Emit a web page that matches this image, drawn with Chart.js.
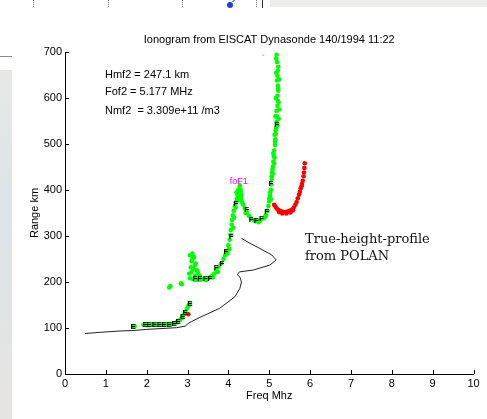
<!DOCTYPE html>
<html>
<head>
<meta charset="utf-8">
<script src="https://cdn.jsdelivr.net/npm/chart.js@4.4.1/dist/chart.umd.min.js"></script>
<style>
  html, body { margin: 0; padding: 0; background: #ffffff; }
  #wrap { position: relative; width: 487px; height: 419px; overflow: hidden; }
  #c { position: absolute; left: 0; top: 0; }
  .deco { position: absolute; }
</style>
</head>
<body>
<div id="wrap">
  <div class="deco" style="left:270px;top:0;width:217px;height:7px;background:#efedeb;"></div>
  <div class="deco" style="left:33px;top:0;width:1px;height:7px;border-left:1px dotted #777;"></div>
  <div class="deco" style="left:108px;top:0;width:1px;height:7px;border-left:1px dotted #777;"></div>
  <div class="deco" style="left:182px;top:0;width:1px;height:7px;border-left:1px dotted #777;"></div>
  <div class="deco" style="left:256px;top:0;width:1px;height:7px;border-left:1px dotted #777;"></div>
  <div class="deco" style="left:262px;top:0;width:1px;height:8px;background:#333;"></div>
  <div class="deco" style="left:227px;top:2px;width:6px;height:6px;border-radius:3px;background:#1a3fe0;"></div>
  <div class="deco" style="left:232px;top:0;width:4px;height:1px;background:#1a3fe0;transform:rotate(-45deg);"></div>
  <div class="deco" style="left:0;top:56px;width:12px;height:1px;background:#8a8a8a;"></div>
  <div class="deco" style="left:0;top:70px;width:12px;height:349px;background:linear-gradient(#e6e8e6,#dde5e8 40%,#e6e4e2);"></div>
  <canvas id="c" width="487" height="419"></canvas>
</div>
<script>
// ---- Data (frequency MHz, range km) ----
const titleText = "Ionogram from EISCAT Dynasonde 140/1994 11:22";
const xTickValues = [0,1,2,3,4,5,6,7,8,9,10];
const yTickValues = [0,100,200,300,400,500,600,700];

// O-mode echoes (green)
const greenFreq = [
  1.67,1.70,1.92,1.96,2.00,2.06,2.12,2.19,2.25,2.31,2.37,2.43,2.50,2.55,2.62,2.67,2.72,2.77,2.82,2.86,2.88,2.92,2.94,2.98,3.02,3.06,
  2.55,2.58,2.84,2.86,
  3.06,3.16,3.10,3.18,3.14,3.22,3.10,3.26,3.18,3.06,3.30,3.12,3.20,3.08,3.04,3.12,3.24,
  3.14,3.18,3.24,3.30,3.36,3.43,3.50,3.55,3.60,3.65,3.70,3.76,3.82,3.88,3.92,3.96,4.00,4.03,4.05,4.06,4.08,4.09,4.11,4.13,4.16,4.19,4.21,4.22,4.25,4.27,4.28,
  4.24,4.30,4.26,4.31,4.22,4.18,4.14,4.34,4.20,4.12,4.02,3.98,3.74,3.62,3.46,
  4.30,4.31,4.32,4.36,4.40,4.45,4.50,4.55,4.62,4.70,4.78,4.86,4.92,4.96,4.98,5.00,5.02,5.04,5.05,5.06,5.07,5.09,5.10,5.11,5.12,5.14,5.15,5.16,5.17,5.18,5.19,5.18,5.20,5.21,5.20,5.22,5.21,5.19,5.20,5.21,5.22,5.19,5.17,5.18,
  5.08,5.13,5.10,5.16,5.15,5.23,5.24,5.16,5.23,5.02,5.04,5.06,5.12,5.14,5.20,5.25,5.22,5.17,5.13,5.09,5.00,4.90,4.74,4.66,4.42
];
const greenRange = [
  103,104,107,108,106,106,107,107,107,107,107,107,108,108,109,110,112,114,118,122,125,130,134,142,148,153,
  188,191,197,195,
  258,254,245,237,230,226,222,219,213,208,213,250,240,232,218,262,224,
  206,205,205,205,206,206,208,210,213,218,226,233,240,250,258,268,280,292,302,313,325,335,345,355,365,373,382,390,396,403,410,
  400,398,388,385,378,362,340,372,395,318,272,262,222,210,204,
  400,390,378,368,360,352,344,338,334,333,334,338,345,355,365,375,388,400,412,424,438,451,462,474,486,498,510,522,535,548,560,572,583,594,605,616,627,638,648,659,668,678,686,694,
  445,470,480,530,560,590,640,600,555,395,380,430,458,505,540,575,620,655,520,436,382,342,330,332,350
];
// faint stray echo near the top
const strayFreq = [4.85];
const strayRange = [693];

// X-mode echoes (red)
const redFreq = [3.02,5.12,5.15,5.18,5.22,5.26,5.30,5.35,5.40,5.45,5.50,5.55,5.60,5.64,5.67,5.70,5.73,5.75,5.77,5.80,5.82,5.84,5.85,5.86,5.87,5.24,5.32,5.42,5.52,5.58,5.79];
const redRange = [130,368,364,360,357,355,353,352,352,353,355,357,362,368,374,382,390,396,404,413,420,430,438,448,458,352,349,349,351,356,408];

// True-height profile from POLAN (black line)
const profFreq = [0.49,0.86,1.35,1.67,2.00,2.40,2.73,2.94,3.02,3.10,3.30,3.79,4.16,4.28,4.32,4.28,4.22,4.27,4.61,5.02,5.17,5.06,4.77,4.53,4.32];
const profRange = [88,90.6,93.5,94.5,97,99,100.7,104,110,114,123,143,168,186,200,211,216,222,226,237,248,259,273,284,295];

// Echo-type letters
const eFreq = [1.67,1.96,2.06,2.19,2.31,2.43,2.55,2.67,2.77,2.88,2.94,3.06];
const eRange = [103,107,106,107,107,107,108,110,114,125,133,152];
const fFreq = [3.18,3.30,3.43,3.55,3.70,3.84,3.94,4.07,4.18,4.45,4.56,4.68,4.81,4.94,5.04,5.18];
const fRange = [206,206,206,208,230,240,265,299,369,357,335,333,338,353,414,541];
const foF1Label = "foF1";
const foF1Freq = 4.28, foF1Range = 418;

const infoLines = ["Hmf2 = 247.1 km", "Fof2 = 5.177 MHz", "Nmf2  = 3.309e+11 /m3"];
const noteLines = ["True-height-profile", "from POLAN"];

const toPts = (xs, ys) => xs.map((x, i) => ({x: x, y: ys[i]}));

const inwardTicks = {
  id: 'inwardTicks',
  afterDraw(chart) {
    const {ctx, chartArea: a} = chart;
    const xs = chart.scales.x, ys = chart.scales.y;
    ctx.save();
    ctx.strokeStyle = '#000';
    ctx.lineWidth = 1;
    ctx.beginPath();
    xTickValues.forEach(v => {
      const px = Math.round(xs.getPixelForValue(v)) + 0.5;
      ctx.moveTo(px, a.bottom); ctx.lineTo(px, a.bottom - 4);
    });
    yTickValues.forEach(v => {
      const py = Math.round(ys.getPixelForValue(v)) + 0.5;
      ctx.moveTo(a.left, py); ctx.lineTo(a.left + 4, py);
    });
    ctx.stroke();
    ctx.restore();
  }
};

const labelsPlugin = {
  id: 'labelsPlugin',
  afterDatasetsDraw(chart) {
    const {ctx, chartArea: a} = chart;
    const xs = chart.scales.x, ys = chart.scales.y;
    ctx.save();
    ctx.fillStyle = '#000';
    ctx.font = 'bold 8px "Liberation Sans", Arial, sans-serif';
    ctx.textAlign = 'center';
    ctx.textBaseline = 'middle';
    eFreq.forEach((f, i) => ctx.fillText('E', xs.getPixelForValue(f), ys.getPixelForValue(eRange[i])));
    fFreq.forEach((f, i) => ctx.fillText('F', xs.getPixelForValue(f), ys.getPixelForValue(fRange[i])));
    ctx.fillStyle = '#ff00ff';
    ctx.font = '9px "Liberation Sans", Arial, sans-serif';
    ctx.fillText(foF1Label, xs.getPixelForValue(foF1Freq) - 1, ys.getPixelForValue(foF1Range));
    // info text
    ctx.fillStyle = '#000';
    ctx.textAlign = 'left';
    ctx.textBaseline = 'middle';
    ctx.font = '11px "Liberation Sans", Arial, sans-serif';
    const infoY = [75, 92, 111];
    infoLines.forEach((t, i) => ctx.fillText(t, a.left + 40, infoY[i]));
    // note text
    ctx.font = '13px "DejaVu Serif", serif';
    ctx.textBaseline = 'alphabetic';
    ctx.fillStyle = '#111';
    noteLines.forEach((t, i) => ctx.fillText(t, a.left + 240, 243 + i * 17));
    ctx.restore();
  }
};

const font11 = {family: '"Liberation Sans", Arial, sans-serif', size: 11};

new Chart(document.getElementById('c'), {
  type: 'scatter',
  data: {
    datasets: [
      {
        label: 'profile', data: toPts(profFreq, profRange), showLine: true,
        borderColor: '#222', borderWidth: 1, pointRadius: 0, tension: 0, fill: false, order: 4
      },
      {
        label: 'stray', data: toPts(strayFreq, strayRange), pointRadius: 1, pointStyle: 'circle',
        backgroundColor: '#7fff7f', borderWidth: 0, order: 3
      },
      {
        label: 'O', data: toPts(greenFreq, greenRange), pointRadius: 2.3, pointStyle: 'circle',
        backgroundColor: '#00ff00', borderWidth: 0, order: 2
      },
      {
        label: 'X', data: toPts(redFreq, redRange), pointRadius: 2.3, pointStyle: 'circle',
        backgroundColor: '#ff0000', borderWidth: 0, order: 1
      }
    ]
  },
  options: {
    responsive: false,
    animation: false,
    events: [],
    layout: { padding: { left: 0, right: 13.5, top: 0, bottom: 0 } },
    plugins: {
      legend: { display: false },
      tooltip: { enabled: false },
      title: {
        display: true, text: titleText, color: '#000', fullSize: false,
        font: {family: '"Liberation Sans", Arial, sans-serif', size: 11, weight: 'normal'},
        padding: { top: 33.4, bottom: 5.4 }
      }
    },
    scales: {
      x: {
        type: 'linear', min: 0, max: 10,
        afterBuildTicks: s => { s.ticks = xTickValues.map(v => ({value: v})); },
        afterFit: s => { s.height = 45; },
        grid: { display: false, drawTicks: false },
        border: { display: true, color: '#000', width: 1 },
        ticks: { color: '#000', font: font11, padding: 3, maxRotation: 0, autoSkip: false },
        title: { display: true, text: 'Freq Mhz', color: '#000', font: font11, padding: {top: 0, bottom: 16} }
      },
      y: {
        type: 'linear', min: 0, max: 700,
        afterBuildTicks: s => { s.ticks = yTickValues.map(v => ({value: v})); },
        afterFit: s => { s.width = 65; },
        grid: { display: false, drawTicks: false },
        border: { display: true, color: '#000', width: 1 },
        ticks: { color: '#000', font: font11, padding: 3, autoSkip: false },
        title: { display: true, text: 'Range km', color: '#000', font: font11, padding: {top: 28.4, bottom: 0} }
      }
    }
  },
  plugins: [inwardTicks, labelsPlugin]
});
</script>
</body>
</html>
